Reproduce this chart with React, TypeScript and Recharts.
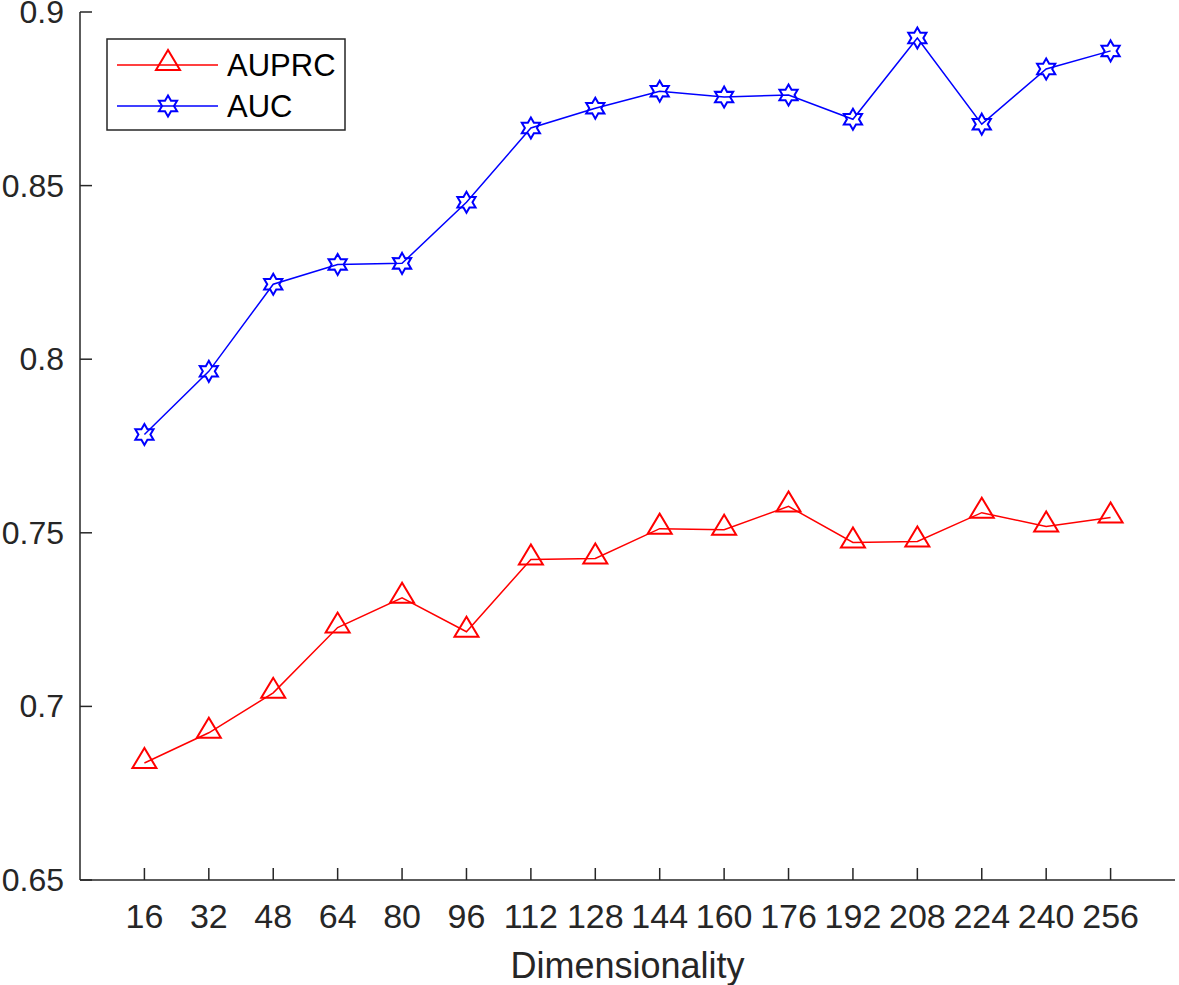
import { Legend, Line, LineChart, XAxis, YAxis } from 'recharts';

const dims = [16, 32, 48, 64, 80, 96, 112, 128, 144, 160, 176, 192, 208, 224, 240, 256];
const auprc = [0.6837, 0.6924, 0.7039, 0.7227, 0.7313, 0.7215, 0.7423, 0.7426, 0.7512, 0.7509, 0.7576, 0.7472, 0.7475, 0.7558, 0.7518, 0.7544];
const auc = [0.7783, 0.7965, 0.8216, 0.8273, 0.8276, 0.8452, 0.8666, 0.8723, 0.8772, 0.8755, 0.8761, 0.8691, 0.8925, 0.8677, 0.8836, 0.8888];
const yTicks = [0.65, 0.7, 0.75, 0.8, 0.85, 0.9];
const yTickLabels = ['0.65', '0.7', '0.75', '0.8', '0.85', '0.9'];

const data = dims.map((d, i) => ({ dim: d, auprc: auprc[i], auc: auc[i] }));

const AXIS = '#262626';
const FONT = '"Liberation Sans", Arial, Helvetica, sans-serif';

function triPoints(cx: number, cy: number) {
  return `${cx},${cy - 15} ${cx - 12},${cy + 5} ${cx + 12},${cy + 5}`;
}

function hexPath(cx: number, cy: number) {
  const R = 10.5;
  const r = 6;
  const pts: string[] = [];
  for (let k = 0; k < 12; k++) {
    const ang = -Math.PI / 2 + (k * Math.PI) / 6;
    const rad = k % 2 === 0 ? R : r;
    pts.push(`${(cx + rad * Math.cos(ang)).toFixed(2)},${(cy + rad * Math.sin(ang)).toFixed(2)}`);
  }
  return `M${pts.join('L')}Z`;
}

const TriDot = (props: any) => {
  const { cx, cy, index } = props;
  if (cx == null || cy == null) return <g key={index} />;
  return <polygon key={index} points={triPoints(cx, cy)} fill="none" stroke="#ff0000" strokeWidth={2} />;
};

const HexDot = (props: any) => {
  const { cx, cy, index } = props;
  if (cx == null || cy == null) return <g key={index} />;
  return <path key={index} d={hexPath(cx, cy)} fill="none" stroke="#0000ff" strokeWidth={2} />;
};

const BottomTick = (props: any) => {
  const { x, y, payload } = props;
  return (
    <g>
      <line x1={x} y1={y} x2={x} y2={y - 12} stroke={AXIS} strokeWidth={1.5} />
      <text x={x} y={y + 48} textAnchor="middle" fill={AXIS} fontSize={34} fontFamily={FONT}>
        {payload.value}
      </text>
    </g>
  );
};

const TopTick = (props: any) => {
  const { x, y } = props;
  return <line x1={x} y1={y} x2={x} y2={y + 12} stroke={AXIS} strokeWidth={1.5} />;
};

const LeftTick = (props: any) => {
  const { x, y, payload } = props;
  const idx = yTicks.findIndex((t) => Math.abs(t - payload.value) < 1e-9);
  return (
    <g>
      <line x1={x} y1={y} x2={x + 12} y2={y} stroke={AXIS} strokeWidth={1.5} />
      <text x={x - 16} y={y + 11} textAnchor="end" fill={AXIS} fontSize={32} fontFamily={FONT}>
        {idx >= 0 ? yTickLabels[idx] : payload.value}
      </text>
    </g>
  );
};

const RightTick = (props: any) => {
  const { x, y } = props;
  return <line x1={x} y1={y} x2={x - 12} y2={y} stroke={AXIS} strokeWidth={1.5} />;
};

const XTitle = (props: any) => {
  const vb = props.viewBox || { x: 80, y: 880, width: 1095, height: 105 };
  return (
    <text x={vb.x + vb.width / 2} y={vb.y + 98} textAnchor="middle" fill={AXIS} fontSize={36} fontFamily={FONT}>
      Dimensionality
    </text>
  );
};

const LegendBox = () => (
  <svg width={240} height={93} style={{ display: 'block' }}>
    <rect x={1} y={1} width={238} height={91} fill="#ffffff" stroke={AXIS} strokeWidth={1.5} />
    <line x1={11} y1={27} x2={112} y2={27} stroke="#ff0000" strokeWidth={1.5} />
    <polygon points={triPoints(62, 27)} fill="none" stroke="#ff0000" strokeWidth={2} />
    <text x={121} y={38} fill="#000" fontSize={31} fontFamily={FONT}>AUPRC</text>
    <line x1={11} y1={68} x2={112} y2={68} stroke="#0000ff" strokeWidth={1.5} />
    <path d={hexPath(62, 68)} fill="none" stroke="#0000ff" strokeWidth={2} />
    <text x={121} y={79} fill="#000" fontSize={31} fontFamily={FONT}>AUC</text>
  </svg>
);

export default function App() {
  return (
    <div style={{ width: 1179, height: 985, background: '#fff' }}>
      <style>{'body{margin:0;}'}</style>
      <LineChart width={1179} height={985} data={data} margin={{ top: 12, right: 4, left: 0, bottom: 0 }}>
        <XAxis
          xAxisId="b"
          dataKey="dim"
          type="number"
          domain={[0, 272]}
          ticks={dims}
          interval={0}
          height={105}
          tickSize={0}
          tickMargin={0}
          tickLine={false}
          tick={<BottomTick />}
          axisLine={{ stroke: AXIS, strokeWidth: 1.5 }}
          label={<XTitle />}
        />
        <XAxis
          xAxisId="t"
          orientation="top"
          dataKey="dim"
          type="number"
          domain={[0, 272]}
          ticks={dims}
          interval={0}
          height={0}
          tickSize={0}
          tickMargin={0}
          tickLine={false}
          tick={<TopTick />}
          axisLine={{ stroke: AXIS, strokeWidth: 1.5 }}
        />
        <YAxis
          yAxisId="l"
          type="number"
          domain={[0.65, 0.9]}
          ticks={yTicks}
          interval={0}
          width={80}
          tickSize={0}
          tickMargin={0}
          tickLine={false}
          tick={<LeftTick />}
          axisLine={{ stroke: AXIS, strokeWidth: 1.5 }}
        />
        <YAxis
          yAxisId="r"
          orientation="right"
          type="number"
          domain={[0.65, 0.9]}
          ticks={yTicks}
          interval={0}
          width={0}
          tickSize={0}
          tickMargin={0}
          tickLine={false}
          tick={<RightTick />}
          axisLine={{ stroke: AXIS, strokeWidth: 1.5 }}
        />
        <Legend
          layout="horizontal"
          verticalAlign="middle"
          align="center"
          content={<LegendBox />}
          wrapperStyle={{ left: 106, top: 38, width: 240, height: 93 }}
        />
        <Line
          xAxisId="b"
          yAxisId="l"
          type="linear"
          dataKey="auprc"
          name="AUPRC"
          stroke="#ff0000"
          strokeWidth={1.5}
          dot={TriDot}
          activeDot={false}
          isAnimationActive={false}
        />
        <Line
          xAxisId="b"
          yAxisId="l"
          type="linear"
          dataKey="auc"
          name="AUC"
          stroke="#0000ff"
          strokeWidth={1.5}
          dot={HexDot}
          activeDot={false}
          isAnimationActive={false}
        />
      </LineChart>
    </div>
  );
}
